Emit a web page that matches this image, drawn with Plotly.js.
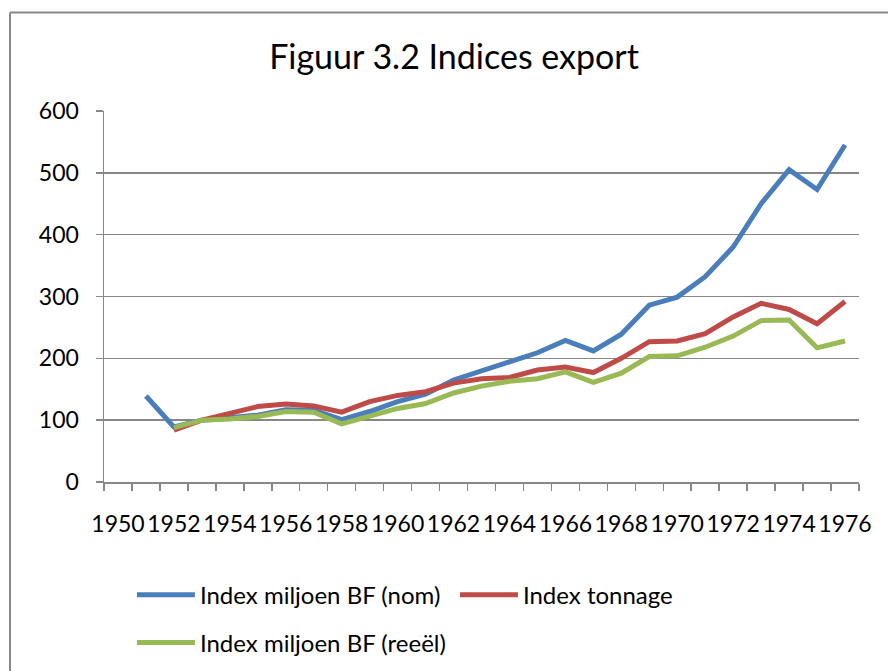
<!DOCTYPE html>
<html>
<head>
<meta charset="utf-8">
<script src="https://cdn.plot.ly/plotly-3.0.1.min.js"></script>
<style>
  html, body { margin: 0; padding: 0; background: #ffffff; }
  #chart { width: 888px; height: 671px; }
</style>
</head>
<body>
<div id="chart"></div>
<script>
const years = [1950,1951,1952,1953,1954,1955,1956,1957,1958,1959,1960,1961,1962,1963,1964,1965,1966,1967,1968,1969,1970,1971,1972,1973,1974,1975,1976];
const indexNom = [null,139,89,100,103,108,117,116,101,114,130,142,165,180,196,209,229,212,239,286,299,332,380,450,505,473,545];
const indexTonnage = [null,null,84,100,111,122,126,123,113,130,140,146,160,167,169,181,186,177,200,227,228,240,267,289,279,256,292];
const indexReeel = [null,null,88,100,102,106,114,113,94,107,119,127,144,155,163,167,178,161,176,203,204,218,236,261,262,217,228];
const tickLabels = ['1950','1952','1954','1956','1958','1960','1962','1964','1966','1968','1970','1972','1974','1976'];
const seriesNames = ['Index miljoen BF (nom)','Index tonnage','Index miljoen BF (reeël)'];
const seriesColors = ['#4a7ebb','#be4b48','#98b954'];
const seriesLegends = ['legend','legend','legend2'];

const gridColor = '#878787';
const font = 'Lato, Calibri, sans-serif';

const traces = [indexNom, indexTonnage, indexReeel].map((vals, i) => ({
  type: 'scatter',
  mode: 'lines',
  x: years,
  y: vals,
  name: seriesNames[i],
  legend: seriesLegends[i],
  line: { color: seriesColors[i], width: 5 },
  connectgaps: false,
  hoverinfo: 'x+y'
}));

const legendStyle = {
  orientation: 'h',
  x: 0.037,
  xanchor: 'left',
  yanchor: 'top',
  itemwidth: 58,
  entrywidth: 250,
  entrywidthmode: 'pixels',
  font: { family: font, size: 24, color: '#000000' },
  bgcolor: 'rgba(0,0,0,0)'
};

const layout = {
  width: 888,
  height: 671,
  paper_bgcolor: '#ffffff',
  plot_bgcolor: '#ffffff',
  margin: { l: 104, r: 29, t: 111, b: 189, autoexpand: false },
  font: { family: font, color: '#000000', size: 23 },
  title: {
    text: 'Figuur 3.2 Indices export',
    font: { family: font, size: 34, color: '#000000' },
    x: 454/888, xref: 'container', xanchor: 'center',
    y: 1 - 57/671, yref: 'container', yanchor: 'middle'
  },
  xaxis: {
    type: 'linear',
    range: [1949.5, 1976.5],
    tickvals: tickLabels.map(Number),
    ticktext: tickLabels,
    tickangle: 0,
    ticks: '',
    showgrid: false,
    zeroline: false,
    showline: true,
    linecolor: gridColor,
    linewidth: 1.5,
    ticklabelstandoff: 21,
    tickfont: { family: font, size: 23, color: '#000000' },
    minor: { tick0: 1949.5, dtick: 1, ticks: 'outside', ticklen: 7, tickwidth: 1.5, tickcolor: gridColor, showgrid: false },
    fixedrange: true
  },
  yaxis: {
    range: [0, 600],
    dtick: 100,
    tick0: 0,
    ticks: 'outside',
    ticklen: 7,
    tickwidth: 1.5,
    tickcolor: gridColor,
    showgrid: true,
    gridcolor: gridColor,
    gridwidth: 1.5,
    zeroline: false,
    showline: true,
    linecolor: gridColor,
    linewidth: 1.5,
    ticklabelstandoff: 12,
    tickfont: { family: font, size: 23, color: '#000000' },
    fixedrange: true
  },
  showlegend: true,
  legend: Object.assign({}, legendStyle, { y: (482.3 - 573) / 371.6 }),
  legend2: Object.assign({}, legendStyle, { y: (482.3 - 621) / 371.6 }),
  shapes: [
    { type: 'line', xref: 'paper', yref: 'paper', x0: (10-104)/755, x1: 1.2, y0: (482.3-12)/371.6, y1: (482.3-12)/371.6, line: { color: gridColor, width: 2 } },
    { type: 'line', xref: 'paper', yref: 'paper', x0: (10-104)/755, x1: (10-104)/755, y0: (482.3-12)/371.6, y1: -0.6, line: { color: gridColor, width: 2 } }
  ]
};

Plotly.newPlot('chart', traces, layout, { displayModeBar: false, staticPlot: true });
</script>
</body>
</html>
